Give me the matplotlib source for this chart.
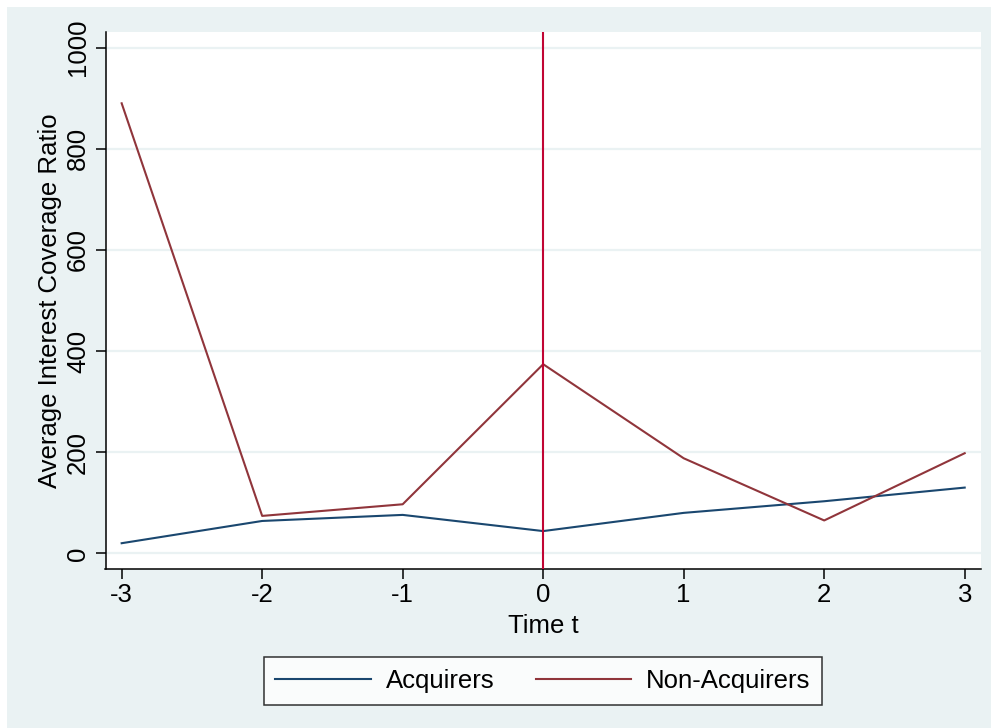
# Stata-style line chart: average interest coverage ratio around event time

import matplotlib.pyplot as plt
from matplotlib.patches import Rectangle

plt.rcParams['font.family'] = ['Liberation Sans', 'DejaVu Sans']

time_t = [-3, -2, -1, 0, 1, 2, 3]
acquirers = [20, 64, 76, 44, 80, 103, 130]
non_acquirers = [890, 74, 97, 374, 188, 65, 198]
y_ticks = [0, 200, 400, 600, 800, 1000]

bg = '#EAF2F3'
navy = '#1A476F'
maroon = '#90353B'
event_red = '#C10534'
fs = 18.5

fig = plt.figure(figsize=(9.91, 7.28), dpi=100, facecolor='white')
fig.patches.append(Rectangle((7 / 991, 0), 1 - 7 / 991, 1 - 7 / 728,
                             transform=fig.transFigure, facecolor=bg,
                             edgecolor='none', zorder=-10))

ax = fig.add_axes([105.5 / 991, 1 - 569 / 728, (981 - 105.5) / 991, (569 - 32) / 728])
ax.set_facecolor('white')

line_a, = ax.plot(time_t, acquirers, color=navy, lw=1.5, label='Acquirers')
line_n, = ax.plot(time_t, non_acquirers, color=maroon, lw=1.5, label='Non-Acquirers')
ax.axvline(0, color=event_red, lw=1.5, zorder=3)

ax.set_xlim(-3.115, 3.116)
ax.set_ylim(-31, 1031)
ax.set_xticks(time_t)
ax.set_xticklabels([str(t) for t in time_t])
ax.set_yticks(y_ticks)
ax.set_yticklabels([str(v) for v in y_ticks], rotation=90, va='center')

ax.grid(axis='y', color=bg, lw=1.6)
ax.set_axisbelow(True)

for side in ['top', 'right']:
    ax.spines[side].set_visible(False)
for side in ['left', 'bottom']:
    ax.spines[side].set_linewidth(1.1)

ax.tick_params(axis='both', direction='out', length=7, width=1.1, labelsize=fs)
ax.tick_params(axis='x', pad=3)
ax.tick_params(axis='y', pad=4)

ax.set_xlabel('Time t', fontsize=fs, labelpad=5)
ax.set_ylabel('Average Interest Coverage Ratio', fontsize=fs, labelpad=3)

leg = fig.legend(handles=[line_a, line_n], loc='center',
                 bbox_to_anchor=(543 / 991, 1 - 681 / 728), ncol=2,
                 fontsize=fs, frameon=True, fancybox=False, edgecolor='black',
                 handlelength=3.7, handletextpad=0.6, columnspacing=1.6,
                 borderpad=0.45)
leg.get_frame().set_linewidth(1.1)

plt.savefig('out.png', dpi=100, facecolor=fig.get_facecolor())
plt.close()
